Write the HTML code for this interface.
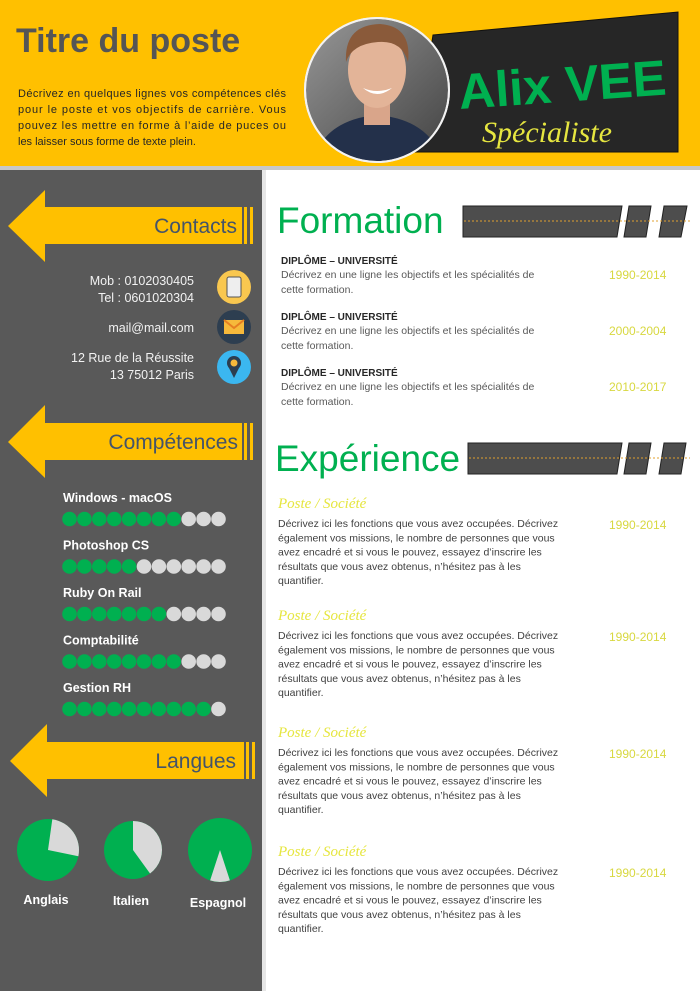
<!DOCTYPE html>
<html><head><meta charset="utf-8">
<style>
html,body{margin:0;padding:0;background:#fff;}
svg{display:block;}
text{font-family:"Liberation Sans",sans-serif;}
</style></head>
<body>
<svg width="700" height="991" viewBox="0 0 700 991" xmlns="http://www.w3.org/2000/svg">
  <defs>
    <linearGradient id="photoBg" x1="0" y1="0" x2="1" y2="1">
      <stop offset="0" stop-color="#9a9a9a"/><stop offset="1" stop-color="#3d3d3d"/>
    </linearGradient>
    <clipPath id="photoClip"><circle cx="377" cy="90" r="71"/></clipPath>
  </defs>
  <rect x="0" y="0" width="700" height="166" fill="#FFC000"/>
  <rect x="0" y="166" width="700" height="4" fill="#c8c8c8"/>
  <text x="16" y="52" font-size="34" font-weight="bold" fill="#555">Titre du poste</text>
  <g font-size="11" fill="#262626">
    <text x="18" y="97" textLength="268" lengthAdjust="spacing">Décrivez en quelques lignes vos compétences clés</text>
    <text x="18" y="113" textLength="268" lengthAdjust="spacing">pour le poste et vos objectifs de carrière. Vous</text>
    <text x="18" y="129" textLength="268" lengthAdjust="spacing">pouvez les mettre en forme à l’aide de puces ou</text>
    <text x="18" y="145">les laisser sous forme de texte plein.</text>
  </g>
  <polygon points="433,35 678,12 678,152 415,152" fill="#262626" stroke="#111"/>
  <text x="458" y="102" font-size="50" font-weight="bold" fill="#00B050" textLength="208" lengthAdjust="spacingAndGlyphs" transform="rotate(-4 560 80)">Alix VEE</text>
  <text x="482" y="142" font-size="30" font-style="italic" fill="#E6E640" style="font-family:'Liberation Serif',serif">Spécialiste</text>
  <g>
    <circle cx="377" cy="90" r="73" fill="#eee"/>
    <g clip-path="url(#photoClip)">
      <rect x="300" y="15" width="160" height="150" fill="url(#photoBg)"/>
      <path d="M310 170 Q320 120 377 115 Q435 120 445 170 Z" fill="#23304a"/>
      <rect x="364" y="95" width="26" height="30" fill="#d9a58a"/>
      <ellipse cx="377" cy="70" rx="29" ry="38" fill="#e3b498"/>
      <path d="M346 62 Q344 25 380 24 Q412 26 408 62 Q402 40 378 42 Q352 44 346 62 Z" fill="#8a5a3a"/>
      <path d="M363 88 Q377 100 392 88 Q377 94 363 88 Z" fill="#fff"/>
    </g>
    <circle cx="377" cy="90" r="72" fill="none" stroke="#f2f2f2" stroke-width="2"/>
  </g>
  <rect x="0" y="170" width="262" height="821" fill="#595959"/>
  <rect x="262" y="170" width="4" height="821" fill="#e6e6e6"/>

  <g>
    <polygon points="8,226 45,190 45,207 242,207 242,244 45,244 45,262" fill="#FFC000"/>
    <rect x="244" y="207" width="3" height="37" fill="#FFC000"/><rect x="250" y="207" width="3" height="37" fill="#FFC000"/>
    <text x="237" y="233" font-size="21" fill="#44546A" text-anchor="end">Contacts</text>
  </g>
  <g font-size="12.5" fill="#f2f2f2" text-anchor="end">
    <text x="194" y="285">Mob : 0102030405</text>
    <text x="194" y="302">Tel : 0601020304</text>
    <text x="194" y="332">mail@mail.com</text>
    <text x="194" y="362">12  Rue de la Réussite</text>
    <text x="194" y="379">13  75012 Paris</text>
  </g>
  <g><circle cx="234" cy="287" r="17" fill="#F9C74F"/><rect x="227" y="277" width="14" height="20" rx="2" fill="#eee" stroke="#555"/></g>
  <g><circle cx="234" cy="327" r="17" fill="#2D3E50"/><rect x="224" y="320" width="20" height="14" fill="#F6B93B"/><path d="M224 320 L234 328 L244 320" fill="none" stroke="#e67e22" stroke-width="2"/></g>
  <g><circle cx="234" cy="367" r="17" fill="#3BB7F0"/><circle cx="234" cy="363" r="7" fill="#2c3e50"/><path d="M228 366 L234 378 L240 366 Z" fill="#2c3e50"/><circle cx="234" cy="363" r="3.5" fill="#F6B93B"/></g>

  <g>
    <polygon points="8,442 45,405 45,423 242,423 242,460 45,460 45,478" fill="#FFC000"/>
    <rect x="244" y="423" width="3" height="37" fill="#FFC000"/><rect x="250" y="423" width="3" height="37" fill="#FFC000"/>
    <text x="238" y="449" font-size="21" fill="#44546A" text-anchor="end">Compétences</text>
  </g>
  <g id="skills"></g>

  <g>
    <polygon points="10,761 47,724 47,742 244,742 244,779 47,779 47,797" fill="#FFC000"/>
    <rect x="246" y="742" width="3" height="37" fill="#FFC000"/><rect x="252" y="742" width="3" height="37" fill="#FFC000"/>
    <text x="236" y="768" font-size="21" fill="#44546A" text-anchor="end">Langues</text>
  </g>
  <g id="langs"></g>

  <text x="277" y="233" font-size="37" fill="#00B050">Formation</text>
  <g>
    <polygon points="463,206 622,206 617,237 463,237" fill="#4d4d4d" stroke="#222"/>
    <polygon points="629,206 651,206 646,237 624,237" fill="#4d4d4d" stroke="#222"/>
    <polygon points="664,206 687,206 681,237 659,237" fill="#4d4d4d" stroke="#222"/>
    <line x1="464" y1="221" x2="690" y2="221" stroke="#E0A030" stroke-width="1" stroke-dasharray="2,2"/>
  </g>
  <g id="formation"></g>

  <text x="275" y="471" font-size="37" fill="#00B050">Expérience</text>
  <g>
    <polygon points="468,443 622,443 617,474 468,474" fill="#4d4d4d" stroke="#222"/>
    <polygon points="629,443 651,443 646,474 624,474" fill="#4d4d4d" stroke="#222"/>
    <polygon points="664,443 686,443 681,474 659,474" fill="#4d4d4d" stroke="#222"/>
    <line x1="469" y1="458" x2="690" y2="458" stroke="#E0A030" stroke-width="1" stroke-dasharray="2,2"/>
  </g>
  <g id="experience"></g>
</svg>
<script>
const NS = 'http://www.w3.org/2000/svg';
const skillNames = ['Windows - macOS','Photoshop CS','Ruby On Rail','Comptabilité','Gestion RH'];
const skillLevels = [8,5,7,8,10];
const skillMax = 11;
const langNames = ['Anglais','Italien','Espagnol'];
const langPercent = [74,60,90];
const langGapStart = [8,0,162];
const formationYears = ['1990-2014','2000-2004','2010-2017'];
const experienceYears = ['1990-2014','1990-2014','1990-2014','1990-2014'];

function mk(tag, attrs, parent){const e=document.createElementNS(NS,tag);for(const k in attrs)e.setAttribute(k,attrs[k]);parent.appendChild(e);return e;}

const sk = document.getElementById('skills');
skillNames.forEach((n,i)=>{
  const y0 = 497 + i*47.5;
  const t = mk('text',{x:63,y:y0+5,'font-size':12.5,'font-weight':'bold',fill:'#fff'},sk);
  t.textContent = n;
  
  
  for(let d=0; d<skillMax; d++){
    const c = mk('circle',{cx:69.5+d*14.9,cy:y0+22,r:7.3,fill:d<skillLevels[i]?'#00B050':'#d9d9d9'},sk);
    
    
  }
});

const lg = document.getElementById('langs');
const pieCx = [48,133,220], pieR = [31,29,32], labelY = [904,905,907];
function pt(cx,cy,r,deg){const a=(deg-90)*Math.PI/180;return [cx+r*Math.cos(a),cy+r*Math.sin(a)];}
langNames.forEach((n,i)=>{
  const cx=pieCx[i], cy=850, r=pieR[i];
  const bg = mk('circle',{cx:cx,cy:cy,r:r,fill:'#00B050'},lg);
  
  
  const gap = (100-langPercent[i])*3.6;
  const s = langGapStart[i], e = s+gap;
  const p1 = pt(cx,cy,r,s), p2 = pt(cx,cy,r,e);
  const w = mk('path',{d:`M${cx} ${cy} L${p1[0]} ${p1[1]} A${r} ${r} 0 ${gap>180?1:0} 1 ${p2[0]} ${p2[1]} Z`,fill:'#d9d9d9'},lg);
  
  
  const t = mk('text',{x:cx-2,y:labelY[i],'font-size':12.5,'font-weight':'bold',fill:'#fff','text-anchor':'middle'},lg);
  t.textContent = n;
  
  
});

const fm = document.getElementById('formation');
formationYears.forEach((yr,i)=>{
  const y = 264 + i*56;
  const g = mk('g',{},fm);
  
  
  const a = mk('text',{x:281,y:y,'font-size':10,'font-weight':'bold',fill:'#262626'},g); a.textContent='DIPLÔME – UNIVERSITÉ';
  const b = mk('text',{x:281,y:y+14,'font-size':10.5,fill:'#595959'},g); b.textContent='Décrivez en une ligne les objectifs et les spécialités de';
  const c = mk('text',{x:281,y:y+29,'font-size':10.5,fill:'#595959'},g); c.textContent='cette formation.';
  const d = mk('text',{x:609,y:y+15,'font-size':12,fill:'#D8D840'},g); d.textContent=yr;
});

const ex = document.getElementById('experience');
const expLines = ['Décrivez ici les fonctions que vous avez occupées. Décrivez','également vos missions, le nombre de personnes que vous','avez encadré et si vous le pouvez, essayez d’inscrire les','résultats que vous avez obtenus, n’hésitez pas à les','quantifier.'];
const expTop = [508,620,737,856];
experienceYears.forEach((yr,i)=>{
  const y = expTop[i];
  const g = mk('g',{},ex);
  
  
  const h = mk('text',{x:278,y:y,'font-size':15,'font-style':'italic',fill:'#E6E640',style:"font-family:'Liberation Serif',serif"},g); h.textContent='Poste / Société';
  expLines.forEach((l,k)=>{const t=mk('text',{x:278,y:y+19+k*14.3,'font-size':10.5,fill:'#404040'},g); t.textContent=l;});
  const d = mk('text',{x:609,y:y+21,'font-size':12,fill:'#D8D840'},g); d.textContent=yr;
});
</script>
</body></html>
